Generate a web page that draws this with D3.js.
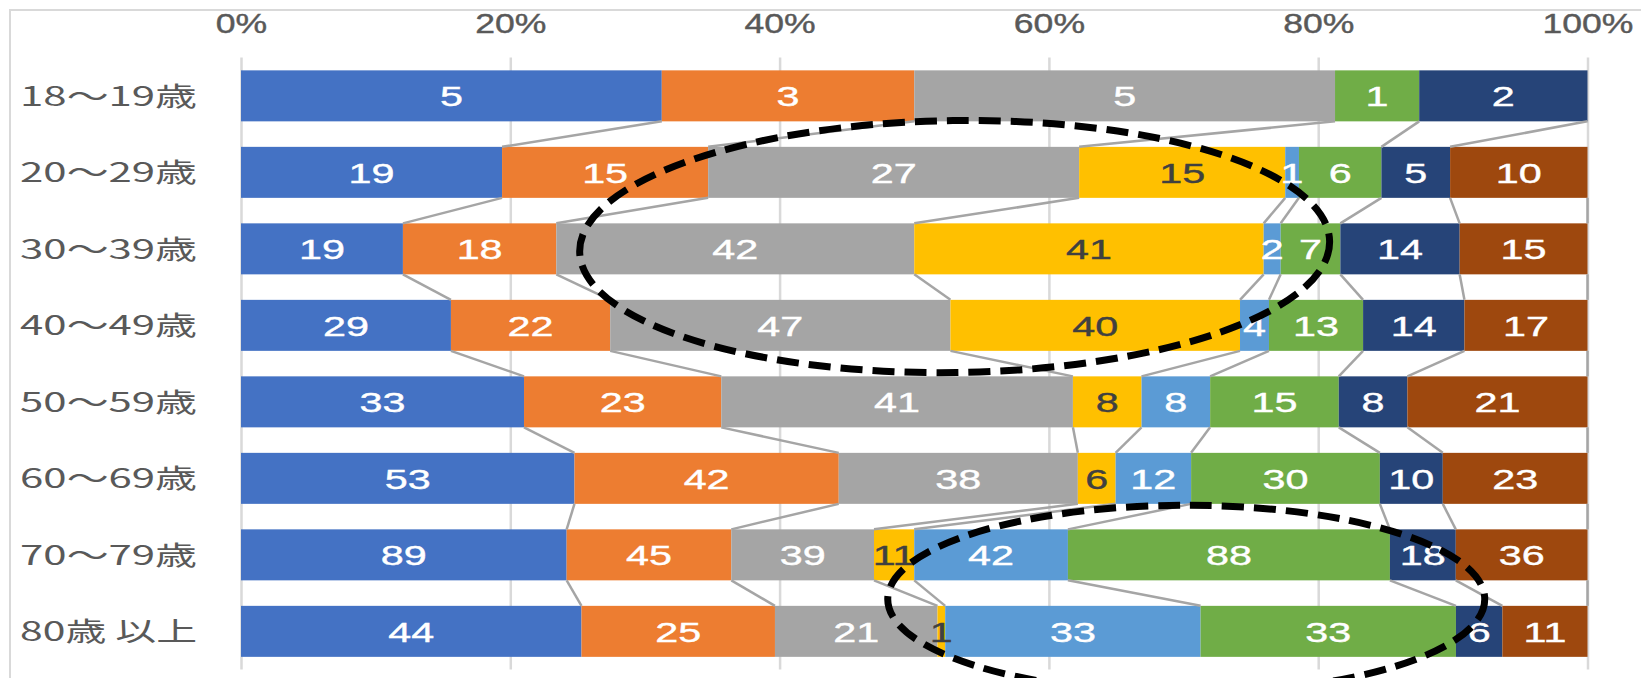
<!DOCTYPE html>
<html>
<head>
<meta charset="utf-8">
<script src="https://cdn.jsdelivr.net/npm/d3@7/dist/d3.min.js"></script>
<style>
  html, body { margin: 0; padding: 0; background: #fff; }
  svg { display: block; }
</style>
</head>
<body>
<svg id="chart" width="1641" height="678"></svg>
<script>
// Age groups (rows) and the eight stacked series, in stacking order
const categories = ["18～19歳", "20～29歳", "30～39歳", "40～49歳", "50～59歳", "60～69歳", "70～79歳", "80歳 以上"];

const blueValues      = [5, 19, 19, 29, 33, 53, 89, 44];
const orangeValues    = [3, 15, 18, 22, 23, 42, 45, 25];
const grayValues      = [5, 27, 42, 47, 41, 38, 39, 21];
const yellowValues    = [null, 15, 41, 40, 8, 6, 11, 1];
const lightBlueValues = [null, 1, 2, 4, 8, 12, 42, 33];
const greenValues     = [1, 6, 7, 13, 15, 30, 88, 33];
const navyValues      = [2, 5, 14, 14, 8, 10, 18, 6];
const brownValues     = [null, 10, 15, 17, 21, 23, 36, 11];

const tickValues = [0, 0.2, 0.4, 0.6, 0.8, 1];
const tickLabels = ["0%", "20%", "40%", "60%", "80%", "100%"];

const seriesKeys   = ["blue", "orange", "gray", "yellow", "lightBlue", "green", "navy", "brown"];
const seriesValues = [blueValues, orangeValues, grayValues, yellowValues, lightBlueValues, greenValues, navyValues, brownValues];
const seriesColors = ["#4472C4", "#ED7D31", "#A5A5A5", "#FFC000", "#5B9BD5", "#70AD47", "#264478", "#9E480E"];
const labelColors  = ["#fff", "#fff", "#fff", "#404040", "#fff", "#fff", "#fff", "#fff"];

// Row table for d3.stack
const table = categories.map((c, i) => {
  const row = { category: c };
  seriesKeys.forEach((k, j) => { row[k] = seriesValues[j][i]; });
  return row;
});

const stacked = d3.stack()
  .keys(seriesKeys)
  .value((d, k) => d[k] == null ? 0 : d[k])
  .offset(d3.stackOffsetExpand)(table);

const svg = d3.select("#chart");

const x = d3.scaleLinear().domain([0, 1]).range([241, 1587.5]);
const y = d3.scaleBand().domain(categories).range([57.6, 669.6])
  .paddingInner(1 / 3).paddingOuter(1 / 6);
const bw = y.bandwidth();
const rowCenter = i => y(categories[0]) + bw / 2 + i * y.step();

// Outer chart frame
svg.append("rect")
  .attr("x", 10).attr("y", 10).attr("width", 1700).attr("height", 700)
  .attr("fill", "none").attr("stroke", "#D9D9D9").attr("stroke-width", 2);

// Percent axis on top, ticks extended down as gridlines
const axis = svg.append("g")
  .attr("transform", `translate(0,${y.range()[0]})`)
  .call(d3.axisTop(x)
    .tickValues(tickValues)
    .tickFormat((d, i) => tickLabels[i])
    .tickSize(-(y.range()[1] - y.range()[0]))
    .tickPadding(25));
axis.select(".domain").remove();
axis.selectAll(".tick line").attr("stroke", "#D9D9D9").attr("stroke-width", 2.5);
axis.selectAll(".tick text")
  .attr("fill", "#595959")
  .attr("font-family", "'Liberation Sans', Arial, sans-serif")
  .attr("font-size", 28)
  .attr("stroke", "#595959").attr("stroke-width", 0.4)
  .attr("transform", "scale(1.27,1)");

// Stacked bar segments
const layers = svg.append("g").selectAll("g")
  .data(stacked)
  .join("g")
  .attr("fill", (d, i) => seriesColors[i]);

layers.selectAll("rect")
  .data(d => d.filter(s => s.data[d.key] != null && s.data[d.key] > 0))
  .join("rect")
  .attr("x", d => x(d[0]))
  .attr("y", d => y(d.data.category))
  .attr("width", d => x(d[1]) - x(d[0]))
  .attr("height", bw);

// Series lines joining each series' end between neighbouring bars
const seriesLines = [];
stacked.forEach((layer, j) => {
  for (let i = 0; i < categories.length - 1; i++) {
    const a = layer[i], b = layer[i + 1];
    if (a.data[layer.key] == null || b.data[layer.key] == null) continue;
    seriesLines.push({
      x1: x(a[1]), y1: y(categories[i]) + bw,
      x2: x(b[1]), y2: y(categories[i + 1])
    });
  }
});
svg.append("g").selectAll("line")
  .data(seriesLines)
  .join("line")
  .attr("x1", d => d.x1).attr("y1", d => d.y1)
  .attr("x2", d => d.x2).attr("y2", d => d.y2)
  .attr("stroke", "#A5A5A5").attr("stroke-width", 2.5);

// Value labels centred in each segment
stacked.forEach((layer, j) => {
  svg.append("g").selectAll("text")
    .data(layer.filter(s => s.data[layer.key] != null && s.data[layer.key] > 0))
    .join("text")
    .attr("transform", d => `translate(${(x(d[0]) + x(d[1])) / 2},${y(d.data.category) + bw / 2 + 10.3}) scale(1.45,1)`)
    .attr("text-anchor", "middle")
    .attr("font-family", "'Liberation Sans', Arial, sans-serif")
    .attr("font-size", 28.5)
    .attr("fill", labelColors[j])
    .attr("stroke", labelColors[j]).attr("stroke-width", 0.4)
    .text(d => d.data[layer.key]);
});

// Category labels, each fitted to the same label column width
const labelRight = 197, labelWidth = 177;
svg.append("g").selectAll("text")
  .data(categories)
  .join("text")
  .attr("text-anchor", "end")
  .attr("font-family", "'Noto Sans CJK JP', sans-serif")
  .attr("font-size", 26.5)
  .attr("fill", "#595959")
  .text(d => d)
  .each(function (d) {
    const sx = labelWidth / this.getComputedTextLength();
    d3.select(this).attr("transform", `translate(${labelRight},${y(d) + bw / 2 + 9.8}) scale(${sx},1)`);
  });

// Dashed highlight ellipses (centre given in share / row units)
const highlights = [
  { share: 0.530, row: 1.97, rx: 375, ry: 126, rotate: -0.8 },
  { share: 0.702, row: 6.58, rx: 298.5, ry: 94, rotate: 0 }
];
svg.append("g").selectAll("ellipse")
  .data(highlights)
  .join("ellipse")
  .attr("transform", d => `translate(${x(d.share)},${rowCenter(d.row)}) rotate(${d.rotate})`)
  .attr("rx", d => d.rx).attr("ry", d => d.ry)
  .attr("fill", "none")
  .attr("stroke", "#000")
  .attr("stroke-width", 7)
  .attr("stroke-dasharray", "22 10");
</script>
</body>
</html>
